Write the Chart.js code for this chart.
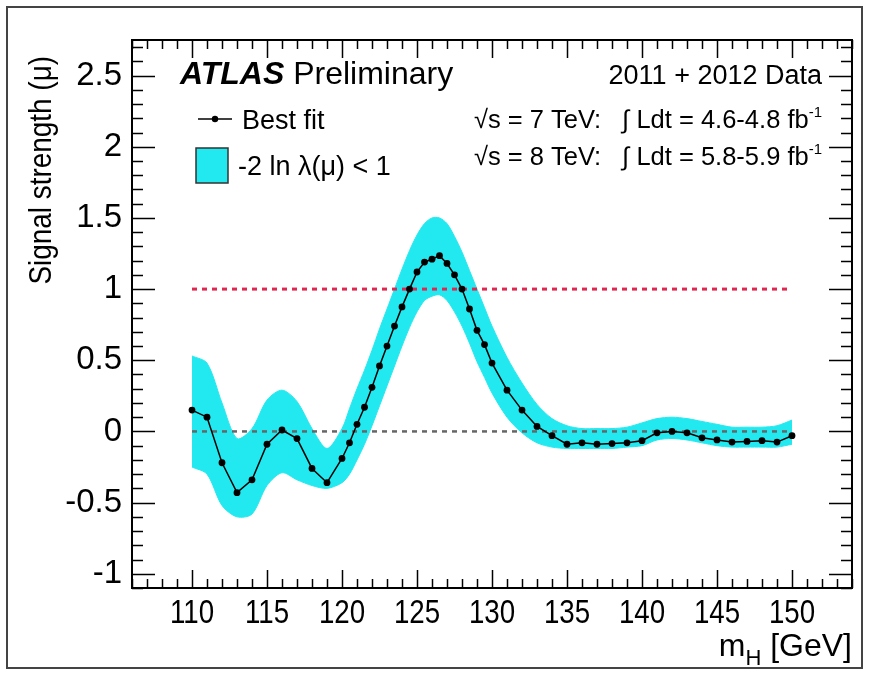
<!DOCTYPE html>
<html>
<head>
<meta charset="utf-8">
<script src="https://cdn.jsdelivr.net/npm/chart.js@4.4.1/dist/chart.umd.min.js"></script>
<style>
  html, body { margin: 0; padding: 0; background: #fff; }
  #wrap { width: 869px; height: 676px; position: relative; }
</style>
</head>
<body>
<div id="wrap"><canvas id="myChart" width="869" height="676"></canvas></div>
<script>
// Higgs mass points (GeV), finer steps near the peak
const mH = [110, 111, 112, 113, 114, 115, 116, 117, 118, 119, 120,
  120.5, 121, 121.5, 122, 122.5, 123, 123.5, 124, 124.5, 125, 125.5, 126, 126.5,
  127, 127.5, 128, 128.5, 129, 129.5, 130,
  131, 132, 133, 134, 135, 136, 137, 138, 139, 140, 141, 142, 143, 144, 145,
  146, 147, 148, 149, 150];
const bestFit = [0.15, 0.10, -0.22, -0.43, -0.34, -0.09, 0.01, -0.05, -0.26, -0.36, -0.19,
  -0.08, 0.05, 0.17, 0.31, 0.46, 0.60, 0.74, 0.875, 1.00, 1.12, 1.19, 1.21, 1.235,
  1.18, 1.10, 1.00, 0.86, 0.71, 0.61, 0.48,
  0.29, 0.15, 0.035, -0.03, -0.09, -0.08, -0.09, -0.085, -0.08, -0.065, -0.01, 0.0, -0.01, -0.045, -0.06,
  -0.075, -0.07, -0.065, -0.075, -0.03];
const bandUp = [0.53, 0.48, 0.20, -0.05, 0.02, 0.22, 0.29, 0.21, 0.02, -0.12, 0.02,
  0.16, 0.30, 0.43, 0.57, 0.72, 0.86, 1.00, 1.14, 1.27, 1.38, 1.46, 1.50, 1.50,
  1.46, 1.37, 1.26, 1.13, 1.00, 0.87, 0.74,
  0.52, 0.34, 0.19, 0.09, 0.04, 0.02, 0.02, 0.02, 0.03, 0.06, 0.09, 0.10, 0.09, 0.07, 0.05,
  0.03, 0.03, 0.03, 0.04, 0.08];
const bandDown = [-0.25, -0.30, -0.52, -0.60, -0.58, -0.38, -0.29, -0.34, -0.38, -0.40, -0.36,
  -0.30, -0.20, -0.09, 0.04, 0.18, 0.32, 0.46, 0.60, 0.73, 0.84, 0.92, 0.95, 0.96,
  0.92, 0.84, 0.74, 0.62, 0.49, 0.38, 0.27,
  0.10, -0.01, -0.08, -0.11, -0.12, -0.12, -0.12, -0.12, -0.11, -0.10, -0.06, -0.05, -0.06, -0.08, -0.10,
  -0.11, -0.11, -0.11, -0.11, -0.09];
const refX = [110, 150];
const smLine = [1, 1];
const bkgLine = [0, 0];
const xTicks = [110, 115, 120, 125, 130, 135, 140, 145, 150];
const yTicks = [-1, -0.5, 0, 0.5, 1, 1.5, 2, 2.5];

const FONT = "'Liberation Sans', Arial, sans-serif";
const CYAN = '#22e9ef';

const pts = (xs, ys) => xs.map((x, i) => ({ x: x, y: ys[i] }));

// text squeezed horizontally (the x labels of the original are condensed)
function squeezed(ctx, text, x, y, font, align, sx) {
  ctx.save();
  ctx.translate(x, y);
  ctx.scale(sx, 1);
  ctx.font = font;
  ctx.textAlign = align;
  ctx.fillText(text, 0, 0);
  ctx.restore();
}

// draws ROOT style inner ticks, frame, x labels and all the text
const rootStyle = {
  id: 'rootStyle',
  afterDraw(chart) {
    const ctx = chart.ctx;
    const xs = chart.scales.x, ys = chart.scales.y;
    const a = chart.chartArea;
    ctx.save();
    ctx.strokeStyle = '#000';
    ctx.lineWidth = 1.5;
    ctx.beginPath();
    for (let v = Math.ceil(xs.min); v <= xs.max; v++) {
      const len = v % 5 === 0 ? 18 : 9;
      const px = Math.round(xs.getPixelForValue(v)) + 0.5;
      ctx.moveTo(px, a.bottom); ctx.lineTo(px, a.bottom - len);
      ctx.moveTo(px, a.top); ctx.lineTo(px, a.top + len);
    }
    for (let i = Math.ceil(ys.min * 10); i <= Math.floor(ys.max * 10); i++) {
      const len = i % 5 === 0 ? 23 : 11;
      const py = Math.round(ys.getPixelForValue(i / 10)) + 0.5;
      ctx.moveTo(a.left, py); ctx.lineTo(a.left + len, py);
      ctx.moveTo(a.right, py); ctx.lineTo(a.right - len, py);
    }
    ctx.stroke();
    ctx.lineWidth = 2;
    ctx.strokeRect(a.left, a.top, a.right - a.left, a.bottom - a.top);

    // outer picture border
    ctx.strokeStyle = '#444';
    ctx.lineWidth = 2;
    ctx.strokeRect(7, 7, 855, 661);

    ctx.fillStyle = '#000';
    ctx.textBaseline = 'alphabetic';

    // x tick labels
    xTicks.forEach(v => {
      squeezed(ctx, String(v), xs.getPixelForValue(v), a.bottom + 35, '33px ' + FONT, 'center', 0.84);
    });

    // y title
    ctx.save();
    ctx.translate(51, 56);
    ctx.rotate(-Math.PI / 2);
    ctx.scale(0.9, 1);
    ctx.font = '31px ' + FONT;
    ctx.textAlign = 'right';
    ctx.fillText('Signal strength (\u03bc)', 0, 0);
    ctx.restore();

    // x title  m_H [GeV]
    ctx.font = '32px ' + FONT;
    const w1 = ctx.measureText('m').width;
    const w3 = ctx.measureText(' [GeV]').width;
    ctx.font = '22px ' + FONT;
    const w2 = ctx.measureText('H').width;
    let x0 = a.right - (w1 + w2 + w3);
    ctx.textAlign = 'left';
    ctx.font = '32px ' + FONT;
    ctx.fillText('m', x0, 656);
    ctx.font = '22px ' + FONT;
    ctx.fillText('H', x0 + w1, 665);
    ctx.font = '32px ' + FONT;
    ctx.fillText(' [GeV]', x0 + w1 + w2, 656);

    // ATLAS Preliminary
    ctx.font = 'italic bold 32px ' + FONT;
    ctx.fillText('ATLAS', 180, 84);
    const wa = ctx.measureText('ATLAS ').width;
    ctx.font = '32px ' + FONT;
    ctx.fillText('Preliminary', 180 + wa, 84);

    // legend
    ctx.strokeStyle = '#000';
    ctx.lineWidth = 1.5;
    ctx.beginPath();
    ctx.moveTo(198, 119); ctx.lineTo(232, 119);
    ctx.stroke();
    ctx.beginPath();
    ctx.arc(215, 119, 3.2, 0, Math.PI * 2);
    ctx.fill();
    ctx.font = '27px ' + FONT;
    ctx.fillText('Best fit', 242, 129);
    ctx.fillStyle = CYAN;
    ctx.fillRect(196, 148, 32, 35);
    ctx.strokeStyle = '#333';
    ctx.lineWidth = 1.5;
    ctx.strokeRect(196, 148, 32, 35);
    ctx.fillStyle = '#000';
    ctx.fillText('-2 ln \u03bb(\u03bc) < 1', 238, 175);

    // right-hand info text
    const rightText = (parts, y, size) => {
      let total = 0;
      parts.forEach(p => {
        ctx.font = (p.sup ? Math.round(size * 0.6) : size) + 'px ' + FONT;
        p.w = ctx.measureText(p.t).width;
        total += p.w;
      });
      let x = 822 - total;
      parts.forEach(p => {
        ctx.font = (p.sup ? Math.round(size * 0.6) : size) + 'px ' + FONT;
        ctx.fillText(p.t, x, p.sup ? y - size * 0.45 : y);
        x += p.w;
      });
    };
    ctx.textAlign = 'left';
    rightText([{ t: '2011 + 2012 Data' }], 84, 27);
    rightText([{ t: '\u221as = 7 TeV:   \u222b Ldt = 4.6-4.8 fb' }, { t: '-1', sup: true }], 128, 25.5);
    rightText([{ t: '\u221as = 8 TeV:   \u222b Ldt = 5.8-5.9 fb' }, { t: '-1', sup: true }], 165, 25.5);
    ctx.restore();
  }
};

new Chart(document.getElementById('myChart').getContext('2d'), {
  type: 'line',
  data: {
    datasets: [
      {
        label: 'Best fit',
        data: pts(mH, bestFit),
        borderColor: '#000',
        backgroundColor: '#000',
        borderWidth: 1.5,
        pointRadius: 3.4,
        pointBorderWidth: 0,
        fill: false,
        order: 0
      },
      {
        label: 'mu = 1',
        data: pts(refX, smLine),
        borderColor: '#e3264f',
        borderWidth: 3,
        borderDash: [5, 5],
        pointRadius: 0,
        fill: false,
        order: 1
      },
      {
        label: 'mu = 0',
        data: pts(refX, bkgLine),
        borderColor: '#666',
        borderWidth: 2.5,
        borderDash: [5, 5],
        pointRadius: 0,
        fill: false,
        order: 1
      },
      {
        label: 'band up',
        data: pts(mH, bandUp),
        borderColor: CYAN,
        backgroundColor: CYAN,
        borderWidth: 1,
        pointRadius: 0,
        tension: 0.3,
        fill: '+1',
        order: 3
      },
      {
        label: 'band down',
        data: pts(mH, bandDown),
        borderColor: CYAN,
        borderWidth: 1,
        pointRadius: 0,
        tension: 0.3,
        fill: false,
        order: 3
      }
    ]
  },
  options: {
    responsive: false,
    animation: false,
    layout: { padding: { top: 40, right: 17, left: 0, bottom: 0 } },
    plugins: { legend: { display: false }, tooltip: { enabled: false } },
    scales: {
      x: {
        type: 'linear',
        min: 106,
        max: 154,
        grid: { display: false, drawTicks: false },
        border: { display: false },
        afterBuildTicks: s => { s.ticks = xTicks.map(v => ({ value: v })); },
        afterFit: s => { s.height = 88; },
        ticks: { display: false }
      },
      y: {
        type: 'linear',
        min: -1.1,
        max: 2.75,
        grid: { display: false, drawTicks: false },
        border: { display: false },
        afterBuildTicks: s => { s.ticks = yTicks.map(v => ({ value: v })); },
        afterFit: s => { s.width = 132; },
        ticks: {
          padding: 10,
          autoSkip: false,
          color: '#000',
          font: { family: FONT, size: 33 },
          callback: v => String(v)
        }
      }
    }
  },
  plugins: [rootStyle]
});
</script>
</body>
</html>
